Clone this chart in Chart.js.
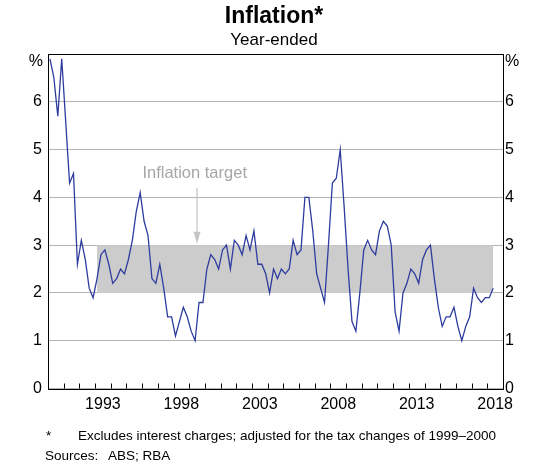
<!DOCTYPE html>
<html>
<head>
<meta charset="utf-8">
<title>Inflation</title>
<script src="https://cdn.jsdelivr.net/npm/chart.js@4.4.1/dist/chart.umd.min.js"></script>
<style>
  body { margin: 0; background: #fff; font-family: "Liberation Sans", Arial, sans-serif; }
  #wrap { position: relative; width: 540px; height: 469px; overflow: hidden; }
  #myChart { position: absolute; left: 0; top: 0; }
  .txt { position: absolute; white-space: nowrap; color: #000; line-height: normal; }
  #title { left: 0; width: 548px; top: 2px; text-align: center; font-size: 23px; font-weight: bold; }
  #subtitle { left: 0; width: 548px; top: 30px; text-align: center; font-size: 17px; }
  .note { font-size: 13.5px; }
</style>
</head>
<body>
<div id="wrap">
  <canvas id="myChart" width="540" height="469"></canvas>
  <div class="txt" id="title">Inflation*</div>
  <div class="txt" id="subtitle">Year-ended</div>
  <div class="txt note" style="left:46px; top:428px;">*</div>
  <div class="txt note" style="left:78px; top:428px;">Excludes interest charges; adjusted for the tax changes of 1999–2000</div>
  <div class="txt note" style="left:45px; top:448px;">Sources:</div>
  <div class="txt note" style="left:108px; top:448px;">ABS; RBA</div>
</div>
<script>
// year-ended inflation, quarterly, Mar 1990 onwards (%)
var cpi1990s = [6.9, 6.5, 5.7, 6.9, 5.6, 4.3, 4.5, 2.6, 3.1, 2.7,
                2.1, 1.9, 2.3, 2.8, 2.9, 2.6, 2.2, 2.3, 2.5, 2.4,
                2.7, 3.1, 3.7, 4.1, 3.5, 3.2, 2.3, 2.2, 2.6, 2.1,
                1.5, 1.5, 1.1, 1.4, 1.7, 1.5, 1.2, 1.0, 1.8, 1.8];
var cpi2000s = [2.5, 2.8, 2.7, 2.5, 2.9, 3.0, 2.5, 3.1, 3.0, 2.8,
                3.2, 2.9, 3.3, 2.6, 2.6, 2.4, 2.0, 2.5, 2.3, 2.5,
                2.4, 2.5, 3.1, 2.8, 2.9, 4.0, 4.0, 3.3, 2.4, 2.1,
                1.8, 3.0, 4.3, 4.4, 5.0, 3.8, 2.5, 1.4, 1.2, 2.0];
var cpi2010s = [2.9, 3.1, 2.9, 2.8, 3.3, 3.5, 3.4, 3.0, 1.6, 1.2,
                2.0, 2.2, 2.5, 2.4, 2.2, 2.7, 2.9, 3.0, 2.3, 1.7,
                1.3, 1.5, 1.5, 1.7, 1.3, 1.0, 1.3, 1.5, 2.1, 1.9,
                1.8, 1.9, 1.9, 2.1];
var firstYear = 1990;
var lastYear = 2019;

// inflation target band, Mar 1993 to Jun 2018
var targetFrom = [1993, 1];   // year, quarter
var targetTo = [2018, 2];
var targetLow = 2;
var targetHigh = 3;

var yearLabels = [1993, 1998, 2003, 2008, 2013, 2018];
var yTicks = [0, 1, 2, 3, 4, 5, 6, 7];

var fontName = '"Liberation Sans", Arial, sans-serif';

// quarter mid-point as a decimal year
function quarterPos(year, q) {
    return year + (q - 0.5) / 4;
}

var cpi = cpi1990s.concat(cpi2000s, cpi2010s);
var cpiPoints = cpi.map(function(v, i) {
    return { x: quarterPos(firstYear + Math.floor(i / 4), (i % 4) + 1), y: v };
});
var bandPoints = [
    { x: quarterPos(targetFrom[0], targetFrom[1]), y: targetHigh },
    { x: quarterPos(targetTo[0], targetTo[1]), y: targetHigh }
];

// frame, inside year ticks, % labels and the target note
var extras = {
    id: 'extras',
    afterDraw: function(chart) {
        var ctx = chart.ctx;
        var area = chart.chartArea;
        var xs = chart.scales.x;
        var ys = chart.scales.y;
        ctx.save();

        ctx.strokeStyle = '#000';
        ctx.lineWidth = 1;
        ctx.beginPath();
        for (var yr = firstYear + 1; yr < lastYear; yr++) {
            var px = Math.round(xs.getPixelForValue(yr)) + 0.5;
            ctx.moveTo(px, area.bottom);
            ctx.lineTo(px, area.bottom - 5);
        }
        ctx.stroke();
        ctx.strokeRect(Math.round(area.left) + 0.5, Math.round(area.top) + 0.5,
                       Math.round(area.right - area.left), Math.round(area.bottom - area.top));

        ctx.fillStyle = '#000';
        ctx.font = '16px ' + fontName;
        ctx.textBaseline = 'middle';
        ctx.textAlign = 'right';
        ctx.fillText('%', area.left - 5, area.top + 8);
        ctx.textAlign = 'left';
        ctx.fillText('%', area.right + 2, area.top + 8);

        // "Inflation target" label with arrow
        var ax = xs.getPixelForValue(1999.5);
        var y0 = ys.getPixelForValue(4.2);
        var y1 = ys.getPixelForValue(3.03);
        ctx.fillStyle = '#a6a6a6';
        ctx.font = '16.5px ' + fontName;
        ctx.textAlign = 'center';
        ctx.fillText('Inflation target', xs.getPixelForValue(1999.35), ys.getPixelForValue(4.49));
        ctx.strokeStyle = '#c4c4c4';
        ctx.lineWidth = 1.2;
        ctx.beginPath();
        ctx.moveTo(ax, y0);
        ctx.lineTo(ax, y1 - 10);
        ctx.stroke();
        ctx.fillStyle = '#c4c4c4';
        ctx.beginPath();
        ctx.moveTo(ax - 3.5, y1 - 12);
        ctx.lineTo(ax + 3.5, y1 - 12);
        ctx.lineTo(ax, y1);
        ctx.closePath();
        ctx.fill();

        ctx.restore();
    }
};

var ctx = document.getElementById('myChart').getContext('2d');
var myChart = new Chart(ctx, {
    type: 'line',
    data: {
        datasets: [{
            label: 'Inflation',
            data: cpiPoints,
            borderColor: '#2d3c9e',
            borderWidth: 1.3,
            pointRadius: 0,
            fill: false,
            tension: 0,
            order: 1
        }, {
            label: 'Inflation target',
            data: bandPoints,
            borderWidth: 0,
            borderColor: 'rgba(0,0,0,0)',
            backgroundColor: '#cccccc',
            pointRadius: 0,
            fill: { value: targetLow },
            order: 2
        }]
    },
    options: {
        responsive: false,
        animation: false,
        layout: { padding: { top: 54, bottom: 50.5, left: 0, right: 0 } },
        plugins: {
            legend: { display: false },
            tooltip: { enabled: false },
            title: { display: false }
        },
        scales: {
            x: {
                type: 'linear',
                min: firstYear,
                max: lastYear,
                grid: { display: false, drawTicks: false },
                border: { display: false },
                afterBuildTicks: function(axis) {
                    axis.ticks = yearLabels.map(function(y) { return { value: y + 0.5 }; });
                },
                afterFit: function(axis) { axis.height = 30; },
                ticks: {
                    autoSkip: false,
                    maxRotation: 0,
                    padding: 6,
                    color: '#000',
                    font: { family: fontName, size: 16 },
                    callback: function(v) { return String(Math.floor(v)); }
                }
            },
            y: {
                position: 'left',
                min: 0,
                max: 7,
                afterBuildTicks: function(axis) {
                    axis.ticks = yTicks.map(function(v) { return { value: v }; });
                },
                afterFit: function(axis) { axis.width = 48; },
                grid: { color: '#b4b4b4', lineWidth: 1, drawTicks: false },
                border: { display: false },
                ticks: {
                    padding: 6,
                    color: '#000',
                    font: { family: fontName, size: 16 },
                    callback: function(v) { return v === 7 ? '' : v; }
                }
            },
            y2: {
                position: 'right',
                min: 0,
                max: 7,
                afterBuildTicks: function(axis) {
                    axis.ticks = yTicks.map(function(v) { return { value: v }; });
                },
                afterFit: function(axis) { axis.width = 37; },
                grid: { display: false, drawTicks: false },
                border: { display: false },
                ticks: {
                    padding: 2,
                    color: '#000',
                    font: { family: fontName, size: 16 },
                    callback: function(v) { return v === 7 ? '' : v; }
                }
            }
        }
    },
    plugins: [extras]
});
</script>
</body>
</html>
